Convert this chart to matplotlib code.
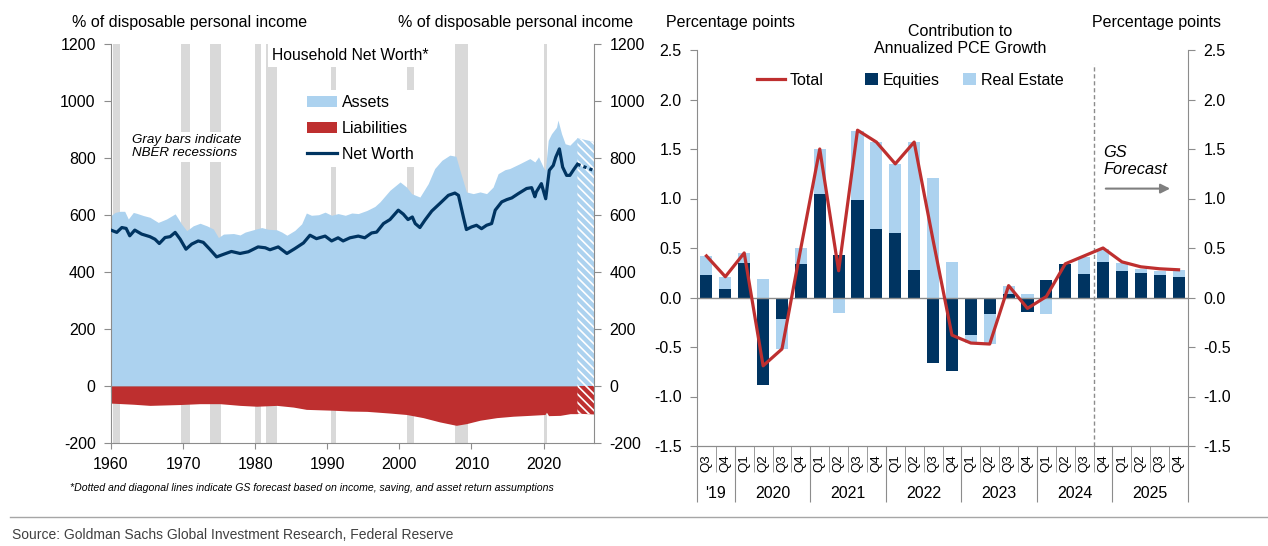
import numpy as np
import matplotlib
matplotlib.use("Agg")
import matplotlib.pyplot as plt
from matplotlib.patches import Patch
from matplotlib.lines import Line2D
from matplotlib.transforms import blended_transform_factory

plt.rcParams['font.family'] = ['Liberation Sans', 'DejaVu Sans']
plt.rcParams['hatch.linewidth'] = 1.2
plt.rcParams['axes.unicode_minus'] = False

# ---- left panel data (% of disposable personal income) ----
asset_years = [1960.0, 1960.55, 1961.25, 1961.9, 1962.4, 1963.1, 1963.55, 1964.5, 1965.4, 1966.55,
               1967.7, 1968.9, 1969.8, 1970.5, 1971.4, 1972.35, 1973.3, 1974.2, 1974.9, 1975.6,
               1977.0, 1977.9, 1978.6, 1980.0, 1980.9, 1981.8, 1983.0, 1983.7, 1984.4, 1985.5,
               1986.45, 1987.1, 1987.8, 1988.8, 1989.7, 1990.6, 1991.5, 1992.5, 1993.4, 1994.3,
               1995.5, 1996.6, 1997.3, 1998.7, 2000.1, 2001.0, 2001.7, 2002.85, 2004.0, 2004.9,
               2005.9, 2007.0, 2007.85, 2008.4, 2009.3, 2010.25, 2011.2, 2012.1, 2013.0, 2013.7,
               2014.65, 2015.3, 2016.7, 2018.1, 2018.8, 2019.3, 2019.96, 2020.25, 2020.65, 2021.1,
               2021.8, 2022.0, 2022.5, 2023.0, 2023.65, 2024.7]
asset_vals = [598, 609, 613, 613, 586, 609, 606, 598, 592, 574,
              586, 604, 568, 545, 562, 571, 562, 551, 521, 533,
              535, 530, 540, 550, 556, 550, 548, 540, 529, 546,
              569, 607, 599, 601, 610, 599, 605, 599, 607, 605,
              616, 630, 646, 687, 716, 698, 675, 663, 710, 763,
              792, 810, 806, 757, 681, 675, 681, 675, 698, 745,
              759, 763, 780, 798, 786, 804, 768, 757, 862, 885,
              908, 933, 885, 850, 845, 872]

nw_years = [1960.0, 1960.8, 1961.5, 1962.1, 1962.6, 1963.3, 1964.25, 1965.4, 1966.1, 1966.7,
            1967.5, 1968.2, 1968.9, 1969.6, 1970.4, 1971.2, 1972.1, 1972.8, 1973.7, 1974.65,
            1975.6, 1976.7, 1977.4, 1977.9, 1979.05, 1980.4, 1981.4, 1982.05, 1983.2, 1984.4,
            1985.5, 1986.7, 1987.6, 1988.5, 1989.7, 1990.6, 1991.5, 1992.2, 1993.15, 1994.3,
            1995.2, 1996.15, 1996.85, 1997.8, 1998.7, 1999.85, 2000.55, 2001.2, 2001.8, 2002.2,
            2002.85, 2003.55, 2004.5, 2005.6, 2006.8, 2007.7, 2008.2, 2008.9, 2009.3, 2010.0,
            2010.7, 2011.4, 2012.1, 2012.8, 2013.3, 2014.2, 2014.9, 2015.6, 2016.5, 2017.65,
            2018.35, 2018.8, 2019.0, 2019.7, 2020.3, 2020.8, 2021.35, 2021.7, 2022.2, 2022.65,
            2023.2, 2023.65, 2024.2, 2024.7]
nw_vals = [547, 539, 556, 553, 527, 547, 533, 524, 515, 500,
           521, 524, 539, 515, 480, 498, 509, 504, 480, 453,
           462, 472, 468, 465, 471, 488, 485, 478, 488, 465,
           482, 502, 529, 517, 526, 509, 520, 509, 520, 526,
           520, 537, 540, 570, 584, 617, 603, 584, 593, 570,
           556, 582, 614, 640, 669, 677, 669, 591, 549, 558,
           564, 552, 564, 570, 617, 646, 654, 660, 675, 693,
           696, 664, 681, 710, 657, 757, 774, 803, 832, 768,
           739, 739, 760, 778]

liab_years = [1960.0, 1963.1, 1965.4, 1969.6, 1972.3, 1975.1, 1977.9, 1980.2, 1983.0, 1985.3,
              1987.1, 1990.8, 1993.2, 1995.5, 1998.7, 2001.0, 2003.3, 2005.6, 2007.9, 2009.3,
              2011.2, 2013.5, 2015.8, 2018.1, 2020.2, 2020.4, 2020.7, 2022.3, 2023.7, 2024.7]
liab_vals = [-60, -64, -68, -65, -62, -62, -68, -71, -68, -74,
             -82, -85, -88, -89, -95, -100, -111, -126, -138, -132,
             -120, -111, -106, -103, -100, -92, -104, -103, -97, -97]

fc_years = [2024.7, 2027.0]
asset_fc = [870, 856]
liab_fc = [-97, -100]
nw_fc = [778, 756]

recessions = [(1960.25, 1961.25), (1969.75, 1971.0), (1973.75, 1975.25), (1980.0, 1980.75),
              (1981.5, 1983.0), (1990.5, 1991.25), (2001.0, 2002.0), (2007.75, 2009.5),
              (2020.0, 2020.5)]

# ---- right panel data (percentage points) ----
quarters = ['Q3', 'Q4'] + ['Q1', 'Q2', 'Q3', 'Q4'] * 6
year_labels = ["'19", '2020', '2021', '2022', '2023', '2024', '2025']
year_counts = [2, 4, 4, 4, 4, 4, 4]
equities = [0.23, 0.09, 0.35, -0.88, -0.22, 0.34, 1.05, 0.43, 0.98, 0.69, 0.65, 0.28, -0.66,
            -0.74, -0.38, -0.17, 0.04, -0.15, 0.18, 0.34, 0.24, 0.36, 0.27, 0.25, 0.23, 0.21]
real_estate = [0.19, 0.12, 0.10, 0.19, -0.30, 0.16, 0.45, -0.16, 0.70, 0.88, 0.70, 1.29, 1.21,
               0.36, -0.08, -0.30, 0.08, 0.04, -0.17, -0.01, 0.17, 0.13, 0.08, 0.04, 0.04, 0.07]
total = [0.42, 0.21, 0.45, -0.69, -0.52, 0.50, 1.50, 0.27, 1.69, 1.57, 1.35, 1.57, 0.58,
         -0.38, -0.46, -0.47, 0.12, -0.11, 0.01, 0.34, 0.42, 0.50, 0.36, 0.31, 0.29, 0.28]
forecast_start = 20.5

LIGHT = '#acd2ef'
NAVY = '#003461'
RED = '#be2f2f'
GRAY = '#8c8c8c'
REC = '#d9d9d9'

fig = plt.figure(figsize=(12.68, 5.46), dpi=100)

# ================= left panel =================
ax = fig.add_axes([111/1268, 1-443/546, 483/1268, 399/546])
for s, e in recessions:
    ax.axvspan(s, e, color=REC, lw=0, zorder=0)

ax.fill_between(asset_years, 0, asset_vals, color=LIGHT, lw=0, zorder=1)
ax.fill_between(liab_years, 0, liab_vals, color=RED, lw=0, zorder=1)
ax.fill_between(fc_years, 0, asset_fc, facecolor=LIGHT, edgecolor='white', hatch='\\\\\\\\', lw=0, zorder=1)
ax.fill_between(fc_years, 0, liab_fc, facecolor=RED, edgecolor='white', hatch='\\\\\\\\', lw=0, zorder=1)
ax.plot(nw_years, nw_vals, color=NAVY, lw=2.3, zorder=3)
ax.plot(fc_years, nw_fc, color=NAVY, lw=2.3, ls=(0, (1, 1)), zorder=3)

ax.set_xlim(1960, 2027)
ax.set_ylim(-200, 1200)
ax.set_yticks(np.arange(-200, 1201, 200))
ax.set_xticks(np.arange(1960, 2021, 10))
ax.spines['top'].set_visible(False)
for sp in ['left', 'right', 'bottom']:
    ax.spines[sp].set_color(GRAY)
ax.tick_params(axis='y', which='both', left=True, right=True, labelleft=True, labelright=True,
               direction='out', length=5, color=GRAY, labelsize=11.5, pad=6)
ax.tick_params(axis='x', direction='out', length=4, color=GRAY, labelsize=11.5, pad=6)

zero_ax = ax.secondary_xaxis(200/1400)
zero_ax.set_xticks(np.arange(1960, 2021, 10))
zero_ax.tick_params(direction='out', length=4, color=GRAY, labelbottom=False)
zero_ax.spines['bottom'].set_color(GRAY)

ax.text(0.495, 0.972, 'Household Net Worth*', transform=ax.transAxes, ha='center', va='center',
        fontsize=11.3, zorder=5, bbox=dict(facecolor='white', edgecolor='none', pad=3))
ax.text(0.043, 0.742, 'Gray bars indicate\nNBER recessions', transform=ax.transAxes, ha='left',
        va='center', fontsize=9.6, style='italic', linespacing=1.1, zorder=5,
        bbox=dict(facecolor='white', edgecolor='none', pad=2))

handles = [Patch(facecolor=LIGHT, edgecolor='none'), Patch(facecolor=RED, edgecolor='none'),
           Line2D([], [], color=NAVY, lw=2.3)]
leg = ax.legend(handles, ['Assets', 'Liabilities', 'Net Worth'], loc='upper left',
                bbox_to_anchor=(0.395, 0.884), fontsize=11.5, frameon=True, fancybox=False,
                framealpha=1, edgecolor='none', borderpad=0.3, borderaxespad=0, labelspacing=0.68,
                handlelength=1.9, handletextpad=0.3)
leg.set_zorder(5)

fig.text(190/1268, 1-22/546, '% of disposable personal income', ha='center', va='center', fontsize=11.5)
fig.text(516/1268, 1-22/546, '% of disposable personal income', ha='center', va='center', fontsize=11.5)
fig.text(70/1268, 1-488/546, '*Dotted and diagonal lines indicate GS forecast based on income, saving, and asset return assumptions',
         ha='left', va='center', fontsize=7.6, style='italic')

# ================= right panel =================
bx = fig.add_axes([697/1268, 1-446/546, 491/1268, 396/546])
x = np.arange(len(quarters))
eq = np.array(equities)
re_ = np.array(real_estate)
re_bottom = np.where(np.sign(eq) == np.sign(re_), eq, 0)
bx.bar(x, eq, width=0.64, color=NAVY, zorder=2)
bx.bar(x, re_, bottom=re_bottom, width=0.64, color=LIGHT, zorder=2)
bx.plot(x, total, color=RED, lw=2.3, zorder=4)
bx.axhline(0, color=GRAY, lw=1, zorder=3)
bx.axvline(forecast_start, ymax=0.965, color=GRAY, lw=1, ls=(0, (3, 2)), zorder=1)

bx.set_xlim(-0.5, len(quarters) - 0.5)
bx.set_ylim(-1.5, 2.5)
bx.set_yticks(np.arange(-1.5, 2.51, 0.5))
bx.yaxis.set_major_formatter(matplotlib.ticker.FormatStrFormatter('%.1f'))
bx.spines['top'].set_visible(False)
for sp in ['left', 'right', 'bottom']:
    bx.spines[sp].set_color(GRAY)
bx.tick_params(axis='y', left=True, right=True, labelleft=True, labelright=True,
               direction='out', length=5, color=GRAY, labelsize=11.5, pad=6)

bx.set_xticks(x)
bx.set_xticklabels(quarters, rotation=90, fontsize=9.5)
bx.tick_params(axis='x', which='major', length=0, pad=6)
bx.set_xticks(np.arange(-0.5, len(quarters)), minor=True)
bx.tick_params(axis='x', which='minor', length=19, color=GRAY, direction='out')

edges = np.concatenate([[0], np.cumsum(year_counts)]) - 0.5
yr_ax = bx.secondary_xaxis('bottom')
yr_ax.set_xticks(edges)
yr_ax.tick_params(length=40, color=GRAY, labelbottom=False)
yr_ax.spines['bottom'].set_color(GRAY)
trans = blended_transform_factory(bx.transData, bx.transAxes)
for lab, a, b in zip(year_labels, edges[:-1], edges[1:]):
    bx.text((a + b) / 2, -0.119, lab, transform=trans, ha='center', va='center', fontsize=11.5)

leg_total = bx.legend([Line2D([], [], color=RED, lw=2.3)], ['Total'], loc='center left',
                      bbox_to_anchor=(0.122, 0.924), frameon=False, fontsize=11.5, borderpad=0,
                      borderaxespad=0, handlelength=1.75, handletextpad=0.3)
bx.add_artist(leg_total)
bx.legend([Patch(facecolor=NAVY), Patch(facecolor=LIGHT)], ['Equities', 'Real Estate'], ncol=2,
          loc='center left', bbox_to_anchor=(0.342, 0.924), frameon=False, fontsize=11.5,
          borderpad=0, borderaxespad=0, handlelength=0.8, handleheight=0.8, handletextpad=0.3,
          columnspacing=1.5)

bx.text(21.0, 1.38, 'GS\nForecast', ha='left', va='center', fontsize=11.8, style='italic', linespacing=1.2)
bx.annotate('', xy=(24.7, 1.10), xytext=(21.0, 1.10),
            arrowprops=dict(arrowstyle='-|>', color='#7f7f7f', lw=1.5, mutation_scale=14))

fig.text(731/1268, 1-22/546, 'Percentage points', ha='center', va='center', fontsize=11.5)
fig.text(1156/1268, 1-22/546, 'Percentage points', ha='center', va='center', fontsize=11.5)
fig.text(960/1268, 1-40/546, 'Contribution to\nAnnualized PCE Growth', ha='center', va='center',
         fontsize=11.5, linespacing=1.15)

# ---- source line ----
fig.add_artist(Line2D([10/1268, 1], [1-517/546, 1-517/546], transform=fig.transFigure,
                      color='#a6a6a6', lw=1))
fig.text(12/1268, 1-535/546, 'Source: Goldman Sachs Global Investment Research, Federal Reserve',
         ha='left', va='center', fontsize=10.0, color='#404040')

fig.savefig('out.png', dpi=100)
